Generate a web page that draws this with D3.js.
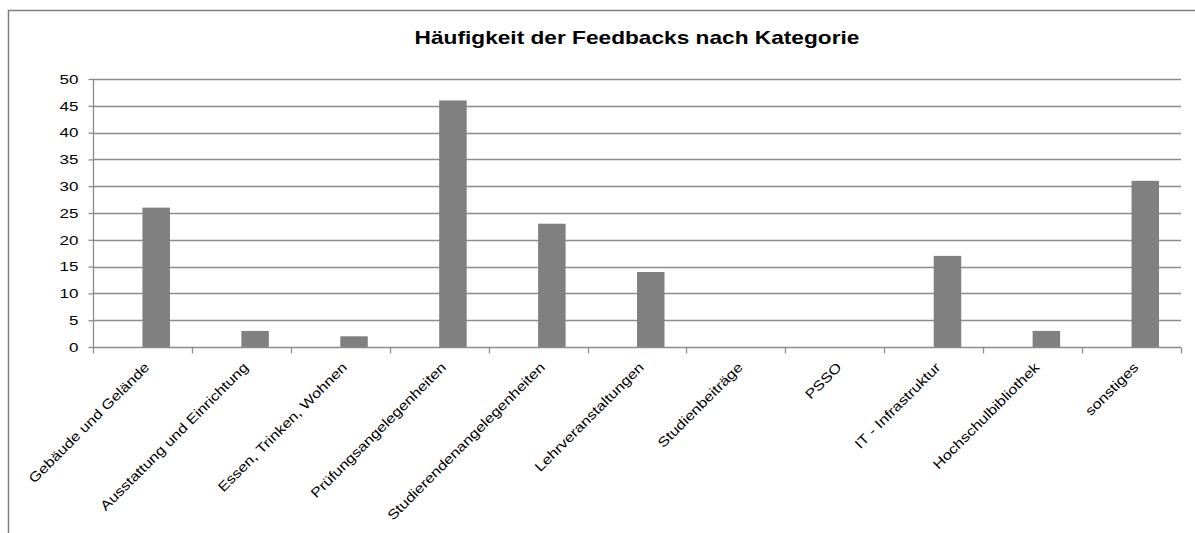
<!DOCTYPE html>
<html lang="de">
<head>
  <meta charset="UTF-8">
  <title>Häufigkeit der Feedbacks nach Kategorie</title>
  <script src="https://d3js.org/d3.v7.min.js"></script>
  <style>
    * { margin: 0; padding: 0; }
    body { background-color: #fff; }
    svg { display: block; font-family: "Liberation Sans", Arial, sans-serif; }
  </style>
</head>
<body>
  <svg id="chart" width="1195" height="533"></svg>

  <script>
    var categories = [
      'Gebäude und Gelände', 'Ausstattung und Einrichtung', 'Essen, Trinken, Wohnen',
      'Prüfungsangelegenheiten', 'Studierendenangelegenheiten', 'Lehrveranstaltungen',
      'Studienbeiträge', 'PSSO', 'IT - Infrastruktur', 'Hochschulbibliothek', 'sonstiges'
    ];
    var counts = [26, 3, 2, 46, 23, 14, 0, 0, 17, 3, 31];
    var yTicks = [0, 5, 10, 15, 20, 25, 30, 35, 40, 45, 50];

    var svg = d3.select('#chart');
    var plotLeft = 93, plotRight = 1181, plotTop = 79, plotBottom = 347;
    var gridColor = '#8c8c8c';
    var stretch = 1.26;   // Schrift im Original breiter als hoch

    // Rahmen (läuft rechts und unten aus dem Bild)
    svg.append('rect')
      .attr('x', 8.5).attr('y', 10.5)
      .attr('width', 1300).attr('height', 600)
      .attr('fill', 'none').attr('stroke', '#7f7f7f').attr('stroke-width', 1.5);

    svg.append('text')
      .attr('transform', 'translate(637,43.5) scale(' + stretch + ',1)')
      .attr('text-anchor', 'middle')
      .attr('font-size', 18).attr('font-weight', 'bold')
      .text('Häufigkeit der Feedbacks nach Kategorie');

    var x = d3.scaleBand().domain(categories).range([plotLeft, plotRight]);
    var y = d3.scaleLinear().domain([0, 50]).range([plotBottom, plotTop]);

    // Gitterlinien
    svg.append('g').selectAll('line').data(yTicks.slice(1)).enter().append('line')
      .attr('x1', plotLeft).attr('x2', plotRight)
      .attr('y1', function(d) { return Math.round(y(d)) + 0.5; })
      .attr('y2', function(d) { return Math.round(y(d)) + 0.5; })
      .attr('stroke', gridColor).attr('stroke-width', 1.3);

    // Balken: zweite Reihe einer Zweiergruppe -> rechts der Bandmitte
    var barW = x.bandwidth() * 0.278;
    svg.append('g').selectAll('rect').data(counts).enter().append('rect')
      .attr('x', function(d, i) { return x(categories[i]) + x.bandwidth() / 2; })
      .attr('y', function(d) { return y(d); })
      .attr('width', barW)
      .attr('height', function(d) { return plotBottom - y(d); })
      .attr('fill', '#808080');

    // y-Achse
    var yAxis = svg.append('g')
      .attr('transform', 'translate(' + (plotLeft + 0.5) + ',0)')
      .call(d3.axisLeft(y).tickValues(yTicks).tickSize(5).tickPadding(10));
    yAxis.selectAll('line, path').attr('stroke', gridColor).attr('stroke-width', 1.3);
    yAxis.select('.domain').attr('d', 'M0,' + plotTop + 'V' + plotBottom);
    yAxis.selectAll('text')
      .attr('x', null)
      .attr('transform', 'translate(-15,0) scale(' + stretch + ',1)')
      .attr('font-size', 13.5).attr('fill', '#000')
      .attr('font-family', '"Liberation Sans", Arial, sans-serif');

    // x-Achse mit Strichen an den Kategoriengrenzen
    var xg = svg.append('g').attr('transform', 'translate(0,' + (plotBottom + 0.5) + ')');
    xg.append('line').attr('x1', plotLeft).attr('x2', plotRight)
      .attr('stroke', gridColor).attr('stroke-width', 1.3);
    var bounds = categories.map(function(c) { return x(c); }).concat([plotRight]);
    xg.selectAll('.tick').data(bounds).enter().append('line')
      .attr('x1', function(d) { return Math.round(d) + 0.5; })
      .attr('x2', function(d) { return Math.round(d) + 0.5; })
      .attr('y1', 0).attr('y2', 6)
      .attr('stroke', gridColor).attr('stroke-width', 1.3);
    xg.selectAll('text').data(categories).enter().append('text')
      .attr('transform', function(c) {
        return 'translate(' + (x(c) + x.bandwidth() / 2 + 1) + ',14) rotate(-45) scale(1.2,1)';
      })
      .attr('text-anchor', 'end')
      .attr('dy', '0.7em')
      .attr('font-size', 13.5)
      .text(function(c) { return c; });
  </script>
</body>
</html>
